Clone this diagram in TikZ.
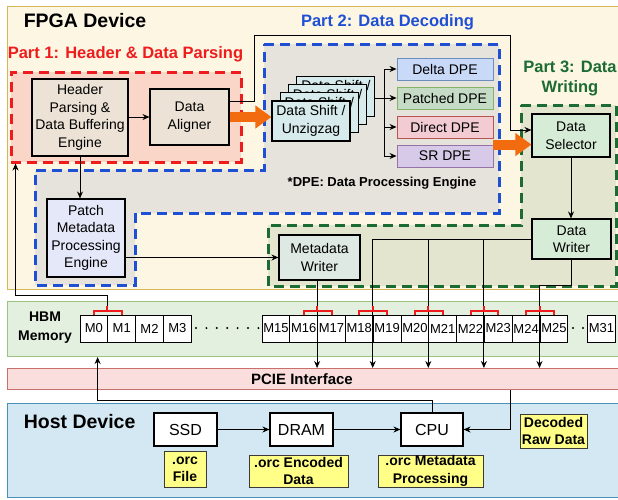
\documentclass[tikz,border=0pt]{standalone}
\usepackage{fontspec}
\setmainfont{Liberation Sans}
\usetikzlibrary{arrows.meta}

\definecolor{fpgafill}{HTML}{FDF6E3}
\definecolor{fpgaline}{HTML}{D6B656}
\definecolor{part1fill}{HTML}{FAD6C8}
\definecolor{partred}{HTML}{EE1C1C}
\definecolor{part2fill}{HTML}{E6E3DC}
\definecolor{partblue}{HTML}{1F4FD4}
\definecolor{part3fill}{HTML}{E3E5CF}
\definecolor{partgreen}{HTML}{1B6B33}
\definecolor{enginefill}{HTML}{ECE3D6}
\definecolor{shiftfill}{HTML}{D8EBEC}
\definecolor{patchfill}{HTML}{E4E8F8}
\definecolor{deltafill}{HTML}{C9DAF8}
\definecolor{deltaline}{HTML}{6C8EBF}
\definecolor{patchedfill}{HTML}{C6DBC6}
\definecolor{patchedline}{HTML}{82B366}
\definecolor{directfill}{HTML}{F2CBD3}
\definecolor{directline}{HTML}{B85450}
\definecolor{srfill}{HTML}{D6CAE8}
\definecolor{srline}{HTML}{9673A6}
\definecolor{writerfill}{HTML}{D6ECD6}
\definecolor{metafill}{HTML}{DEE9E3}
\definecolor{hbmfill}{HTML}{E3EFDF}
\definecolor{hbmline}{HTML}{9AC47F}
\definecolor{pciefill}{HTML}{FADEDE}
\definecolor{pcieline}{HTML}{C9706C}
\definecolor{hostfill}{HTML}{D4E8F3}
\definecolor{hostline}{HTML}{4A90B8}
\definecolor{tagfill}{HTML}{FFFF88}
\definecolor{tagline}{HTML}{3A3A3A}
\definecolor{fatorange}{HTML}{F26B0F}

\begin{document}
\begin{tikzpicture}[x=1pt,y=-1pt,line width=0.9pt,
  >={Stealth[length=7pt,width=6pt]},
  box/.style={draw, line width=1.1pt, align=center, inner sep=0pt, font=\fontsize{14}{17.5}\selectfont},
  dpe/.style={box, line width=0.9pt, minimum width=96pt, minimum height=22pt},
  cell/.style={draw, line width=1pt, fill=white, minimum width=27.8pt, minimum height=27pt, inner sep=0pt, font=\fontsize{13}{15}\selectfont},
  tagbox/.style={draw=tagline, fill=tagfill, line width=1pt, align=center, inner sep=0pt, font=\bfseries\fontsize{14}{17.5}\selectfont},
  regionbox/.style={draw, line width=1pt, anchor=north west, inner sep=0pt, minimum width=623pt},
  partline/.style={line width=3pt, dash pattern=on 10pt off 6pt},
  heading/.style={font=\bfseries\fontsize{16.5}{20}\selectfont, align=center},
  titletext/.style={font=\bfseries\fontsize{19.5}{23}\selectfont, anchor=west},
  fat/.style={line width=10pt, draw=fatorange, -{Triangle[length=16pt,width=22pt]}},
  bracket/.style={draw=partred, line width=2pt}]
\useasboundingbox (0,0) rectangle (618,499);
\fill[white] (0,0) rectangle (618,499);
\clip (0,0) rectangle (618,499);

% regions
\node[regionbox, draw=fpgaline, fill=fpgafill, minimum height=283pt] (fpga) at (7,6) {};
\node[regionbox, draw=hbmline, fill=hbmfill, minimum height=55pt] (hbm) at (7,301) {};
\node[regionbox, draw=pcieline, fill=pciefill, minimum height=21pt] (pcie) at (7,368) {};
\node[regionbox, draw=hostline, fill=hostfill, minimum height=94pt] (host) at (7,403) {};

\node[titletext] at (20,21) {FPGA Device};
\node[titletext] at (20,422) {Host Device};
\node[font=\bfseries\fontsize{14}{19}\selectfont, align=center] at (45,328) {HBM\\Memory};
\node[font=\bfseries\fontsize{15}{18}\selectfont] at (302,379) {PCIE Interface};

% the three parts
\draw[draw=partblue, fill=part2fill, partline] (264,44) -- (499,44) -- (499,213) -- (135,213)
  -- (135,285) -- (35,285) -- (35,170) -- (264,170) -- cycle;
\draw[draw=partgreen, fill=part3fill, partline] (521,105) -- (616,105) -- (616,286) -- (268,286)
  -- (268,225) -- (521,225) -- cycle;
\node[draw=partred, fill=part1fill, partline, minimum width=230pt, minimum height=90pt] (part1) at (126,117) {};

\node[heading, text=partred] at (125.5,54) {Part 1: Header \& Data Parsing};
\node[heading, text=partblue] at (387.5,22) {Part 2: Data Decoding};
\node[heading, text=partgreen] at (570,78) {Part 3: Data\\Writing};
\node[font=\bfseries\fontsize{13}{16}\selectfont] at (382,183) {*DPE: Data Processing Engine};

% engines
\node[box, fill=enginefill, minimum width=96pt, minimum height=77pt] (header) at (80,117.5) {Header\\Parsing \&\\Data Buffering\\Engine};
\node[box, fill=enginefill, minimum width=79pt, minimum height=56pt] (aligner) at (189.5,117) {Data\\Aligner};
\foreach \k in {3,2,1,0}
  \node[box, fill=shiftfill, minimum width=78pt, minimum height=40pt] (shift\k) at ({311+8.3*\k},{121-8.3*\k}) {Data Shift /\\Unzigzag};
\node[dpe, fill=deltafill, draw=deltaline] (delta) at (445,69) {Delta DPE};
\node[dpe, fill=patchedfill, draw=patchedline] (patched) at (445,98) {Patched DPE};
\node[dpe, fill=directfill, draw=directline] (direct) at (445,127) {Direct DPE};
\node[dpe, fill=srfill, draw=srline] (sr) at (445,156) {SR DPE};
\node[box, fill=patchfill, minimum width=78pt, minimum height=78pt] (patch) at (86,238) {Patch\\Metadata\\Processing\\Engine};
\node[box, fill=writerfill, minimum width=78pt, minimum height=43pt] (selector) at (571,135.5) {Data\\Selector};
\node[box, fill=writerfill, minimum width=79pt, minimum height=40pt] (datawriter) at (571.5,239) {Data\\Writer};
\node[box, fill=metafill, minimum width=81pt, minimum height=45pt] (mwriter) at (319.5,257.5) {Metadata\\Writer};

\draw[->] (header.east |- aligner.west) -- (aligner.west);
\draw[->] (header.south) -- (header.south |- patch.north);
\draw[->] (patch.east |- mwriter.west) -- (mwriter.west);
\draw[fat] (aligner.east) -- (aligner.east -| shift0.west);
\draw[fat] (sr.north east) -- (sr.north east -| selector.west);

\coordinate (bypass) at (510,35);
\draw[->] ([yshift=-13pt]aligner.north east) -- ++(25,0) |- (bypass) |- ([yshift=5.5pt]selector.west);

\coordinate (fork) at (384,98);
\draw (fork -| shift3.east) -- (fork);
\foreach \n in {delta,patched,direct,sr}
  \draw[->] (fork) |- (\n.west);
\draw[->] (selector.south) -- (selector.south |- datawriter.north);

% HBM channels
\foreach \i in {0,...,3}
  \node[cell] (m\i) at ({93.9+27.8*\i},328.5) {M\i};
\foreach \i in {15,...,25}
  \node[cell] (m\i) at ({275.9+27.8*(\i-15)},328.5) {M\i};
\node[cell] (m31) at (601.5,328.5) {M31};
\foreach \d in {0,...,6}
  \fill (196+10.4*\d,328) circle (1.1pt);
\fill (573,328) circle (1.1pt);
\fill (583,328) circle (1.1pt);

\draw[->] (mwriter.south -| m17.west) -- (pcie.north -| m17.west);
\draw[->] (datawriter.west) -| (pcie.north -| m19.west);
\foreach \m in {m21,m23}
  \draw[->] (datawriter.west -| \m.west) -- (pcie.north -| \m.west);
\draw[->] (datawriter.south) -- ++(0,26) -| (pcie.north -| m25.west);
\draw[->] (m1.west |- 0,306) -- ++(0,-11) -| ([xshift=6pt]part1.south west);

\foreach \a/\b in {m0/m1,m16/m17,m18/m19,m20/m21,m22/m23,m24/m25} {
  \draw[bracket] (\a.north) -- ++(0,-4) -| (\b.north);
  \draw[bracket] (\b.west |- 0,311) -- ++(0,-5);
}

% host side
\node[box, fill=white, minimum width=63pt, minimum height=33pt, font=\fontsize{16}{19}\selectfont] (ssd) at (185.5,429.5) {SSD};
\node[box, fill=white, minimum width=63pt, minimum height=33pt, font=\fontsize{16}{19}\selectfont] (dram) at (301.5,429.5) {DRAM};
\node[box, fill=white, minimum width=62pt, minimum height=33pt, font=\fontsize{16}{19}\selectfont] (cpu) at (432,429.5) {CPU};
\draw[->] (ssd) -- (dram);
\draw[->] (dram) -- (cpu);
\coordinate (hostup) at (97.6,400);
\draw[->] (cpu.north) |- (hostup) -- (hostup |- hbm.south);
\draw[->] (pcie.south -| 510,0) |- (cpu.east);

\node[tagbox, minimum width=42pt, minimum height=36pt] (orcfile) at (185,469.5) {.orc\\File};
\node[tagbox, minimum width=99pt, minimum height=32pt] (orcenc) at (298.5,471) {.orc Encoded\\Data};
\node[tagbox, minimum width=105pt, minimum height=32pt] (orcmeta) at (430.5,471) {.orc Metadata\\Processing};
\node[tagbox, minimum width=67pt, minimum height=34pt] (decoded) at (553.5,431) {Decoded\\Raw Data};
\end{tikzpicture}
\end{document}
